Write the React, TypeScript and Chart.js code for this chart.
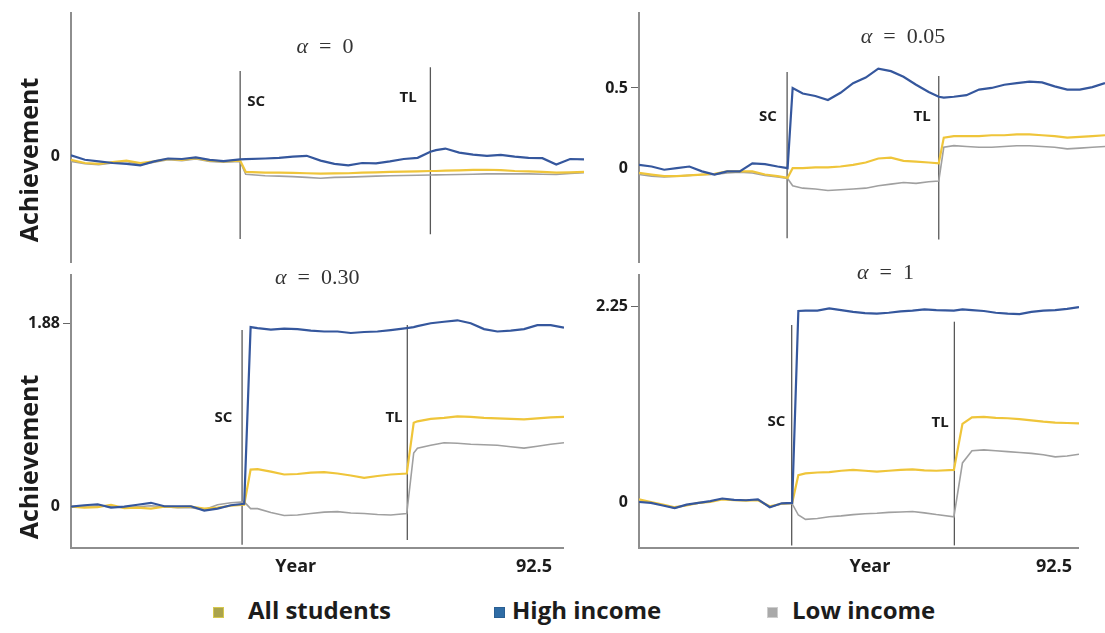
import React, { useEffect, useRef } from 'react';
import { Chart, registerables } from 'chart.js';

Chart.register(...registerables);

// ================= DATA =================
const SERIES_LABELS = ['High income', 'All students', 'Low income'];
const X_MAX = 92.5;
const Y_TITLE = 'Achievement';

// ---- alpha = 0 ----
const yearsA0 = [0, 2.5, 5, 7.5, 10, 12.5, 15, 17.5, 20, 22.5, 25, 27.5, 30.5, 31.5, 35, 37.5, 40, 42.5, 45, 47.5, 50, 52.5, 55, 57.5, 60, 62.5, 64.8, 65.8, 67.5, 70, 72.5, 75, 77.5, 80, 82.5, 85, 87.5, 90, 92.5];
const highA0 = [0.008, -0.02, -0.03, -0.04, -0.045, -0.055, -0.03, -0.012, -0.015, -0.005, -0.02, -0.028, -0.018, -0.016, -0.012, -0.008, 0.0, 0.005, -0.025, -0.045, -0.055, -0.04, -0.042, -0.03, -0.015, -0.008, 0.03, 0.04, 0.05, 0.025, 0.012, 0.005, 0.01, 0.0, -0.008, -0.01, -0.05, -0.015, -0.018];
const allA0 = [-0.02, -0.04, -0.045, -0.035, -0.025, -0.04, -0.03, -0.015, -0.02, -0.01, -0.025, -0.03, -0.025, -0.095, -0.1, -0.1, -0.102, -0.104, -0.106, -0.105, -0.104, -0.1, -0.098, -0.096, -0.094, -0.092, -0.09, -0.09, -0.088, -0.086, -0.083, -0.082, -0.085, -0.09, -0.092, -0.095, -0.1, -0.098, -0.096];
const lowA0 = [-0.03, -0.045, -0.05, -0.04, -0.03, -0.05, -0.035, -0.02, -0.025, -0.015, -0.03, -0.035, -0.03, -0.11, -0.12, -0.122, -0.125, -0.13, -0.135, -0.13, -0.128, -0.125, -0.122, -0.12, -0.118, -0.116, -0.115, -0.114, -0.113, -0.112, -0.11, -0.108, -0.108, -0.107, -0.108, -0.11, -0.112, -0.105, -0.1];
const rangeA0 = [-0.66, 0.898];
const ticksA0 = [0];
const eventsA0 = [
  { name: 'SC', year: 30.5, from: -0.514, to: 0.534, labelYear: 33.4, labelValue: 0.34 },
  { name: 'TL', year: 64.8, from: -0.484, to: 0.557, labelYear: 60.8, labelValue: 0.37 },
];

// ---- alpha = 0.05 ----
const yearsA05 = [0, 2.5, 5, 7.5, 10, 12.5, 15, 17.5, 20, 22.5, 25, 27.5, 29.5, 30.5, 32.5, 35, 37.5, 40, 42.5, 45, 47.5, 50, 52.5, 55, 57.5, 59.5, 60.5, 62.5, 65, 67.5, 70, 72.5, 75, 77.5, 80, 82.5, 85, 87.5, 90, 92.5];
const highA05 = [0.02, 0.01, -0.01, 0.0, 0.01, -0.02, -0.04, -0.02, -0.02, 0.03, 0.025, 0.01, 0.0, 0.5, 0.465, 0.45, 0.425, 0.47, 0.53, 0.565, 0.62, 0.605, 0.57, 0.52, 0.475, 0.445, 0.44, 0.445, 0.455, 0.49, 0.5, 0.52, 0.53, 0.54, 0.535, 0.51, 0.49, 0.49, 0.505, 0.53];
const allA05 = [-0.03, -0.04, -0.05, -0.05, -0.045, -0.04, -0.035, -0.02, -0.02, -0.02, -0.04, -0.05, -0.06, 0.0, 0.0, 0.005, 0.005, 0.01, 0.02, 0.035, 0.06, 0.065, 0.045, 0.04, 0.035, 0.03, 0.19, 0.2, 0.2, 0.2, 0.205, 0.205, 0.21, 0.21, 0.205, 0.2, 0.19, 0.195, 0.2, 0.205];
const lowA05 = [-0.04, -0.05, -0.055, -0.05, -0.045, -0.04, -0.04, -0.03, -0.025, -0.03, -0.045, -0.055, -0.065, -0.11, -0.125, -0.13, -0.14, -0.135, -0.13, -0.125, -0.11, -0.1, -0.09, -0.095, -0.085, -0.08, 0.13, 0.14, 0.135, 0.13, 0.13, 0.135, 0.14, 0.14, 0.135, 0.13, 0.12, 0.125, 0.13, 0.135];
const rangeA05 = [-0.588, 0.97];
const ticksA05 = [0, 0.5];
const eventsA05 = [
  { name: 'SC', year: 29.4, from: -0.437, to: 0.6, labelYear: 25.6, labelValue: 0.32 },
  { name: 'TL', year: 59.5, from: -0.445, to: 0.575, labelYear: 56.2, labelValue: 0.32 },
];

// ---- alpha = 0.30 ----
const yearsA30 = [0, 2.5, 5, 7.5, 10, 12.5, 15, 17.5, 20, 22.5, 25, 27.5, 30, 32.5, 33.7, 35, 37.5, 40, 42.5, 45, 47.5, 50, 52.5, 55, 57.5, 60, 63, 64.3, 65, 67.5, 70, 72.5, 75, 77.5, 80, 82.5, 85, 87.5, 90, 92.5];
const highA30 = [0.0, 0.015, 0.025, -0.01, 0.0, 0.02, 0.04, 0.005, 0.005, 0.005, -0.04, -0.02, 0.015, 0.03, 1.84, 1.83, 1.815, 1.825, 1.82, 1.805, 1.795, 1.795, 1.78, 1.79, 1.795, 1.81, 1.83, 1.84, 1.85, 1.88, 1.895, 1.91, 1.88, 1.82, 1.795, 1.805, 1.82, 1.86, 1.86, 1.835];
const allA30 = [0.0, -0.01, -0.005, 0.02, -0.015, -0.01, -0.02, 0.0, -0.005, 0.0, -0.02, -0.01, 0.01, 0.02, 0.38, 0.385, 0.36, 0.33, 0.335, 0.35, 0.355, 0.34, 0.32, 0.295, 0.315, 0.33, 0.34, 0.86, 0.875, 0.9, 0.91, 0.925, 0.92, 0.91, 0.905, 0.9, 0.895, 0.905, 0.915, 0.92];
const lowA30 = [0.0, 0.005, 0.01, 0.0, -0.01, 0.0, 0.01, 0.0, -0.01, -0.01, -0.03, 0.02, 0.04, 0.05, -0.02, -0.02, -0.06, -0.09, -0.085, -0.07, -0.055, -0.05, -0.065, -0.07, -0.08, -0.085, -0.07, 0.55, 0.6, 0.63, 0.655, 0.65, 0.64, 0.635, 0.63, 0.615, 0.6, 0.62, 0.64, 0.656];
const rangeA30 = [-0.423, 2.374];
const ticksA30 = [0, 1.88];
const eventsA30 = [
  { name: 'SC', year: 32.1, from: -0.39, to: 1.81, labelYear: 28.6, labelValue: 0.91 },
  { name: 'TL', year: 63.1, from: -0.34, to: 1.862, labelYear: 60.6, labelValue: 0.91 },
];

// ---- alpha = 1 ----
const yearsA1 = [0, 2.5, 5, 7.5, 10, 12.5, 15, 17.5, 20, 22.5, 25, 27.5, 30, 32.2, 33.5, 35, 37.5, 40, 42.5, 45, 47.5, 50, 52.5, 55, 57.5, 60, 62.5, 66.2, 68, 70, 72.5, 75, 77.5, 80, 82.5, 85, 87.5, 90, 92.5];
const highA1 = [0.0, -0.01, -0.04, -0.07, -0.03, -0.01, 0.01, 0.04, 0.025, 0.02, 0.03, -0.06, -0.015, -0.01, 2.2, 2.205, 2.205, 2.23, 2.21, 2.19, 2.175, 2.17, 2.18, 2.195, 2.205, 2.22, 2.21, 2.205, 2.22, 2.21, 2.2, 2.18, 2.17, 2.165, 2.19, 2.205, 2.21, 2.225, 2.245];
const allA1 = [0.03, 0.0, -0.03, -0.06, -0.04, -0.01, 0.0, 0.03, 0.02, 0.015, 0.02, -0.05, -0.02, -0.01, 0.31, 0.33, 0.34, 0.345, 0.36, 0.37, 0.36, 0.35, 0.36, 0.37, 0.375, 0.365, 0.36, 0.37, 0.9, 0.975, 0.98, 0.97, 0.965, 0.955, 0.94, 0.925, 0.915, 0.91, 0.906];
const lowA1 = [0.01, -0.005, -0.035, -0.07, -0.035, -0.015, 0.005, 0.035, 0.02, 0.02, 0.025, -0.06, -0.02, -0.02, -0.15, -0.2, -0.19, -0.17, -0.16, -0.145, -0.135, -0.13, -0.12, -0.115, -0.11, -0.125, -0.145, -0.17, 0.45, 0.59, 0.6, 0.59, 0.58, 0.57, 0.56, 0.545, 0.52, 0.53, 0.55];
const rangeA1 = [-0.53, 2.615];
const ticksA1 = [0, 2.25];
const eventsA1 = [
  { name: 'SC', year: 32.1, from: -0.5, to: 2.04, labelYear: 28.9, labelValue: 0.925 },
  { name: 'TL', year: 66.3, from: -0.5, to: 2.077, labelYear: 63.3, labelValue: 0.91 },
];

// x-axis tick labels of the bottom panels
const xTickLabels = ['Year', '92.5'];
const xTicksA30 = [47.8, 92.5];
const xTicksA1 = [53.8, 92.5];

// legend
const legendLabels = ['All students', 'High income', 'Low income'];
const legendFill = ['#aaa34c', '#2f6ca5', '#a9a9a9'];
const legendEdge = ['#d6c84e', '#2a5f93', '#cdcdcd'];

// ================= STYLE =================
const BLUE = '#35579d';
const YELLOW = '#efc53a';
const GRAY = '#a0a0a0';
const AXIS = '#8e8e8e';
const EVENT = '#585858';
const INK = '#1c1c1c';
const SANS = '"Open Sans", "DejaVu Sans", sans-serif';
const SERIF = '"Liberation Serif", "DejaVu Serif", serif';

const panelText = {
  id: 'panelText',
  afterDraw(chart: any, _args: any, opts: any) {
    const { ctx } = chart;
    const xs = chart.scales.x;
    const ys = chart.scales.y;
    ctx.save();
    ctx.fillStyle = INK;
    ctx.font = `bold 15px ${SANS}`;
    ctx.textAlign = 'center';
    ctx.textBaseline = 'middle';
    (opts.events || []).forEach((e: any) => {
      ctx.fillText(e.name, xs.getPixelForValue(e.labelYear), ys.getPixelForValue(e.labelValue));
    });
    // panel title: italic alpha + " = value"
    const cx = xs.getPixelForValue(opts.titleYear);
    const cy = ys.getPixelForValue(opts.titleValue);
    const a = '\u03B1';
    const rest = '\u2002=\u2002' + opts.alpha;
    ctx.font = `italic 22px ${SERIF}`;
    const wa = ctx.measureText(a).width;
    ctx.font = `22px ${SERIF}`;
    const wr = ctx.measureText(rest).width;
    const x0 = cx - (wa + wr) / 2;
    ctx.textAlign = 'left';
    ctx.fillStyle = '#333333';
    ctx.font = `italic 22px ${SERIF}`;
    ctx.fillText(a, x0, cy);
    ctx.font = `22px ${SERIF}`;
    ctx.fillText(rest, x0 + wa, cy);
    // vertical axis title
    if (opts.yTitleY != null) {
      ctx.save();
      ctx.translate(38, opts.yTitleY);
      ctx.rotate(-Math.PI / 2);
      ctx.font = `bold 25px ${SANS}`;
      ctx.fillStyle = INK;
      ctx.textAlign = 'center';
      ctx.textBaseline = 'alphabetic';
      ctx.fillText(Y_TITLE, 0, 0);
      ctx.restore();
    }
    ctx.restore();
  },
};

type PanelProps = {
  left: number; top: number; width: number; height: number;
  padTop: number; padRight: number; axisWidth: number;
  years: number[]; high: number[]; all: number[]; low: number[];
  range: number[]; yTicks: number[]; events: any[];
  alpha: string; titleYear: number; titleValue: number;
  yTitleY?: number;
  xTicks?: number[]; xLabelOffset?: number; xAxisHeight?: number;
};

function Panel(p: PanelProps) {
  const ref = useRef<HTMLCanvasElement>(null);
  useEffect(() => {
    if (!ref.current) return;
    const pts = (vals: number[]) => p.years.map((x, i) => ({ x, y: vals[i] }));
    const seriesStyle = [
      { data: p.high, color: BLUE, width: 2.2 },
      { data: p.all, color: YELLOW, width: 2.2 },
      { data: p.low, color: GRAY, width: 1.6 },
    ];
    const datasets: any[] = seriesStyle.map((s, i) => ({
      label: SERIES_LABELS[i],
      data: pts(s.data),
      borderColor: s.color,
      borderWidth: s.width,
      pointRadius: 0,
      tension: 0,
      fill: false,
    }));
    p.events.forEach((e) => {
      datasets.push({
        label: e.name,
        data: [{ x: e.year, y: e.from }, { x: e.year, y: e.to }],
        borderColor: EVENT,
        borderWidth: 1.3,
        pointRadius: 0,
        fill: false,
      });
    });
    const showX = !!p.xTicks;
    const chart = new Chart(ref.current, {
      type: 'line',
      data: { datasets },
      options: {
        animation: false,
        responsive: false,
        events: [],
        layout: { padding: { left: 0, right: p.padRight, top: p.padTop, bottom: 0 } },
        plugins: {
          legend: { display: false },
          tooltip: { enabled: false },
          panelText: { events: p.events, alpha: p.alpha, titleYear: p.titleYear, titleValue: p.titleValue, yTitleY: p.yTitleY },
        } as any,
        scales: {
          x: {
            type: 'linear',
            min: 0,
            max: X_MAX,
            display: showX,
            afterBuildTicks: (s: any) => {
              if (p.xTicks) s.ticks = p.xTicks.map((v) => ({ value: v }));
            },
            afterFit: (s: any) => {
              if (p.xAxisHeight) s.height = p.xAxisHeight;
            },
            ticks: {
              autoSkip: false,
              maxRotation: 0,
              padding: 8,
              labelOffset: p.xLabelOffset || 0,
              color: INK,
              font: { family: SANS, weight: 'bold', size: 18 },
              callback: (_v: any, i: number) => xTickLabels[i],
            },
            grid: { display: false, drawTicks: false },
            border: { display: true, color: AXIS, width: 2 },
          },
          y: {
            min: p.range[0],
            max: p.range[1],
            afterBuildTicks: (s: any) => {
              s.ticks = p.yTicks.map((v) => ({ value: v }));
            },
            afterFit: (s: any) => {
              s.width = p.axisWidth;
            },
            ticks: {
              padding: 3,
              color: INK,
              font: { family: SANS, weight: 'bold', size: 16 },
              callback: (v: any) => String(v),
            },
            grid: {
              drawOnChartArea: false,
              drawTicks: true,
              tickLength: 8,
              tickWidth: 1,
              tickColor: (ctx: any) => (ctx.tick && ctx.tick.value === 0 ? 'rgba(0,0,0,0)' : '#666666'),
            },
            border: { display: true, color: AXIS, width: 2 },
          },
        },
      } as any,
      plugins: [panelText],
    });
    return () => chart.destroy();
  }, []);
  return (
    <canvas
      ref={ref}
      width={p.width}
      height={p.height}
      style={{ position: 'absolute', left: p.left, top: p.top, width: p.width, height: p.height }}
    />
  );
}

const legendLeft = [213, 494, 767];
const legendTextLeft = [248, 512, 792];

export default function App() {
  return (
    <div style={{ position: 'absolute', left: 0, top: 0, width: 1105, height: 633, background: '#ffffff', overflow: 'hidden' }}>
      <Panel left={0} top={0} width={590} height={275} padTop={10} padRight={6} axisWidth={71}
        years={yearsA0} high={highA0} all={allA0} low={lowA0} range={rangeA0} yTicks={ticksA0} events={eventsA0}
        alpha="0" titleYear={45.8} titleValue={0.68} yTitleY={160} />
      <Panel left={590} top={0} width={515} height={275} padTop={10} padRight={0} axisWidth={49}
        years={yearsA05} high={highA05} all={allA05} low={lowA05} range={rangeA05} yTicks={ticksA05} events={eventsA05}
        alpha="0.05" titleYear={52.4} titleValue={0.818} />
      <Panel left={0} top={250} width={590} height={335} padTop={25} padRight={6} axisWidth={71}
        years={yearsA30} high={highA30} all={allA30} low={lowA30} range={rangeA30} yTicks={ticksA30} events={eventsA30}
        alpha="0.30" titleYear={46.2} titleValue={2.343} yTitleY={207}
        xTicks={xTicksA30} xLabelOffset={-30} xAxisHeight={37} />
      <Panel left={590} top={250} width={515} height={335} padTop={25} padRight={0} axisWidth={49}
        years={yearsA1} high={highA1} all={allA1} low={lowA1} range={rangeA1} yTicks={ticksA1} events={eventsA1}
        alpha="1" titleYear={51.8} titleValue={2.638}
        xTicks={xTicksA1} xLabelOffset={-25} xAxisHeight={37} />
      {legendLabels.map((label, i) => (
        <React.Fragment key={label}>
          <div style={{
            position: 'absolute', left: legendLeft[i], top: 607, width: 9, height: 9,
            background: legendFill[i], border: `1px solid ${legendEdge[i]}`,
          }} />
          <div style={{
            position: 'absolute', left: legendTextLeft[i], top: 594, fontFamily: SANS, fontWeight: 700,
            fontSize: 24, lineHeight: '32px', color: INK, whiteSpace: 'nowrap',
          }}>{label}</div>
        </React.Fragment>
      ))}
    </div>
  );
}
